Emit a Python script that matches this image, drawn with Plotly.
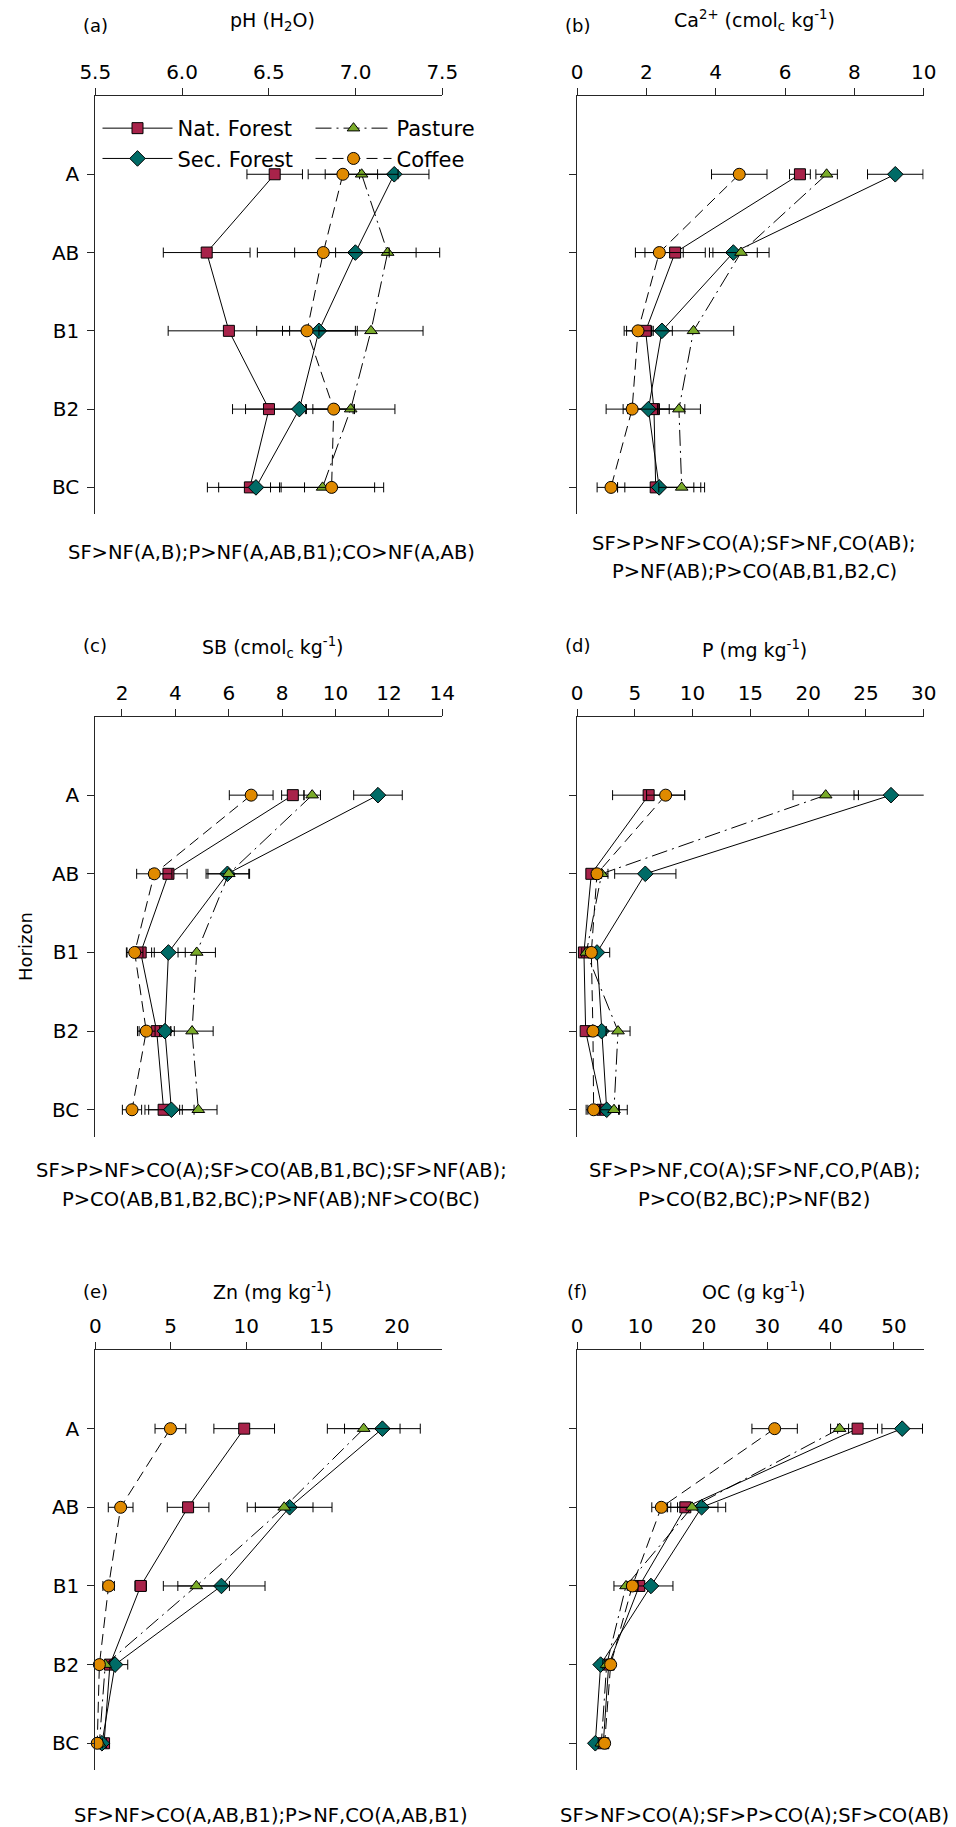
import plotly.graph_objects as go

W, H = 956, 1827

horizons = ["A", "AB", "B1", "B2", "BC"]
series_names = ["Nat. Forest", "Sec. Forest", "Pasture", "Coffee"]

# ---- (a) pH (H2O)
ph_nf = [6.534, 6.142, 6.270, 6.501, 6.391]
ph_nf_err = [0.16, 0.25, 0.35, 0.21, 0.18]
ph_sf = [7.223, 6.999, 6.789, 6.676, 6.426]
ph_sf_err = [0.20, 0.35, 0.21, 0.31, 0.28]
ph_p = [7.035, 7.185, 7.089, 6.972, 6.810]
ph_p_err = [0.21, 0.30, 0.30, 0.255, 0.30]
ph_co = [6.927, 6.814, 6.720, 6.874, 6.862]
ph_co_err = [0.20, 0.38, 0.29, 0.12, 0.30]

# ---- (b) Ca2+
ca_nf = [6.43, 2.83, 1.98, 2.22, 2.27]
ca_nf_err = [0.30, 0.87, 0.55, 0.89, 1.10]
ca_sf = [9.18, 4.51, 2.45, 2.06, 2.37]
ca_sf_err = [0.80, 0.69, 0.30, 0.60, 1.20]
ca_p = [7.20, 4.73, 3.36, 2.94, 3.02]
ca_p_err = [0.31, 0.81, 1.16, 0.62, 0.66]
ca_co = [4.68, 2.375, 1.76, 1.59, 0.98]
ca_co_err = [0.80, 0.69, 0.40, 0.75, 0.40]

# ---- (c) SB
sb_nf = [8.40, 3.74, 2.70, 3.30, 3.56]
sb_nf_err = [0.42, 0.70, 0.51, 0.66, 0.70]
sb_sf = [11.59, 5.95, 3.74, 3.61, 3.85]
sb_sf_err = [0.91, 0.80, 0.63, 0.20, 0.85]
sb_p = [9.125, 6.00, 4.80, 4.625, 4.86]
sb_p_err = [0.31, 0.78, 0.70, 0.79, 0.70]
sb_co = [6.84, 3.21, 2.475, 2.91, 2.375]
sb_co_err = [0.82, 0.66, 0.31, 0.33, 0.36]

# ---- (d) P
p_nf = [6.20, 1.24, 0.60, 0.75, 2.19]
p_nf_err = [3.12, 0.30, 0.30, 0.30, 1.40]
p_sf = [27.17, 5.91, 1.73, 2.13, 2.57]
p_sf_err = [3.20, 2.65, 1.10, 0.40, 1.10]
p_p = [21.52, 2.13, 0.81, 3.55, 3.20]
p_p_err = [2.83, 0.55, 0.40, 1.04, 1.15]
p_co = [7.67, 1.73, 1.24, 1.38, 1.44]
p_co_err = [1.65, 0.40, 0.30, 0.40, 0.50]

# ---- (e) Zn
zn_nf = [9.87, 6.15, 3.01, 0.97, 0.58]
zn_nf_err = [2.01, 1.38, 0.38, 0.35, 0.30]
zn_sf = [19.03, 12.88, 8.36, 1.31, 0.44]
zn_sf_err = [2.51, 2.81, 2.89, 0.84, 0.30]
zn_p = [17.79, 12.52, 6.70, 0.66, 0.27]
zn_p_err = [2.41, 1.91, 2.19, 0.30, 0.20]
zn_co = [4.98, 1.68, 0.885, 0.27, 0.13]
zn_co_err = [1.02, 0.82, 0.38, 0.20, 0.15]

# ---- (f) OC
oc_nf = [44.27, 17.09, 9.83, 5.00, 4.15]
oc_nf_err = [3.15, 2.80, 0.80, 0.50, 0.40]
oc_sf = [51.31, 19.66, 11.67, 3.73, 2.89]
oc_sf_err = [3.20, 3.80, 3.47, 0.50, 0.40]
oc_p = [41.43, 18.14, 7.73, 4.68, 3.84]
oc_p_err = [1.42, 4.10, 1.90, 0.60, 0.50]
oc_co = [31.18, 13.30, 8.73, 5.31, 4.36]
oc_co_err = [3.58, 1.50, 0.80, 0.50, 0.50]

x_titles = ["pH (H<sub>2</sub>O)",
            "Ca<sup>2+</sup> (cmol<sub>c</sub> kg<sup>-1</sup>)",
            "SB (cmol<sub>c</sub> kg<sup>-1</sup>)",
            "P (mg kg<sup>-1</sup>)",
            "Zn (mg kg<sup>-1</sup>)",
            "OC (g kg<sup>-1</sup>)"]
panel_labels = ["(a)", "(b)", "(c)", "(d)", "(e)", "(f)"]
x_ranges = [[5.5, 7.5], [0, 10], [1, 14], [0, 30], [0, 23], [0, 54.7]]
x_ticks = [[5.5, 6.0, 6.5, 7.0, 7.5], [0, 2, 4, 6, 8, 10], [2, 4, 6, 8, 10, 12, 14],
           [0, 5, 10, 15, 20, 25, 30], [0, 5, 10, 15, 20], [0, 10, 20, 30, 40, 50]]
x_ticktext = [["5.5", "6.0", "6.5", "7.0", "7.5"], None, None, None, None, None]
notes = [["SF>NF(A,B);P>NF(A,AB,B1);CO>NF(A,AB)"],
         ["SF>P>NF>CO(A);SF>NF,CO(AB);", "P>NF(AB);P>CO(AB,B1,B2,C)"],
         ["SF>P>NF>CO(A);SF>CO(AB,B1,BC);SF>NF(AB);", "P>CO(AB,B1,B2,BC);P>NF(AB);NF>CO(BC)"],
         ["SF>P>NF,CO(A);SF>NF,CO,P(AB);", "P>CO(B2,BC);P>NF(B2)"],
         ["SF>NF>CO(A,AB,B1);P>NF,CO(A,AB,B1)"],
         ["SF>NF>CO(A);SF>P>CO(A);SF>CO(AB)"]]

panels = [
    [(ph_nf, ph_nf_err), (ph_sf, ph_sf_err), (ph_p, ph_p_err), (ph_co, ph_co_err)],
    [(ca_nf, ca_nf_err), (ca_sf, ca_sf_err), (ca_p, ca_p_err), (ca_co, ca_co_err)],
    [(sb_nf, sb_nf_err), (sb_sf, sb_sf_err), (sb_p, sb_p_err), (sb_co, sb_co_err)],
    [(p_nf, p_nf_err), (p_sf, p_sf_err), (p_p, p_p_err), (p_co, p_co_err)],
    [(zn_nf, zn_nf_err), (zn_sf, zn_sf_err), (zn_p, zn_p_err), (zn_co, zn_co_err)],
    [(oc_nf, oc_nf_err), (oc_sf, oc_sf_err), (oc_p, oc_p_err), (oc_co, oc_co_err)],
]

styles = [
    dict(symbol="square", color="#A8234A", dash="solid", size=11),
    dict(symbol="diamond", color="#006B66", dash="solid", size=12),
    dict(symbol="triangle-up", color="#7AAB2A", dash="16px,5px,2px,5px", size=11),
    dict(symbol="circle", color="#E08A00", dash="11px,6px", size=12),
]

FONT = "DejaVu Sans"
AX = "#262626"


def px_x(p):
    return p / W


def px_y(p):
    return 1 - p / H


# layout geometry in pixels
col_x = [(95.3, 442.3), (577.0, 923.7)]
row_y = [(96.0, 514.0), (716.5, 1136.5), (1350.0, 1770.0)]
ypos = list(range(len(horizons)))

title_bottom = [36.0, 663.0, 1305.0]
label_mid = [25.5, 646.0, 1291.5]
note_centers = [[[552.0], [543.0, 571.0]],
                [[1170.5, 1199.0], [1170.5, 1199.0]],
                [[1815.0], [1815.0]]]
note_x = [271.0, 754.0]

fig = go.Figure()
layout = dict(width=W, height=H, margin=dict(l=0, r=0, t=0, b=0, autoexpand=False),
              paper_bgcolor="white", plot_bgcolor="white",
              font=dict(family=FONT, size=18, color="black"),
              annotations=[])

for i in range(6):
    r, c = divmod(i, 2)
    xa = "x" if i == 0 else f"x{i+1}"
    ya = "y" if i == 0 else f"y{i+1}"
    xkey = "xaxis" if i == 0 else f"xaxis{i+1}"
    ykey = "yaxis" if i == 0 else f"yaxis{i+1}"
    x0, x1 = col_x[c]
    y0, y1 = row_y[r]
    xax = dict(domain=[px_x(x0), px_x(x1)], anchor=ya, side="top", range=x_ranges[i],
               tickvals=x_ticks[i], ticks="outside", ticklen=7, tickwidth=1,
               tickcolor=AX, showline=True, linecolor=AX, linewidth=1,
               showgrid=False, zeroline=False, tickfont=dict(size=20, color="black"),
               ticklabelstandoff=1, automargin=False)
    if x_ticktext[i] is not None:
        xax["ticktext"] = x_ticktext[i]
    yax = dict(domain=[px_y(y1), px_y(y0)], anchor=xa, range=[4.34, -1.0],
               tickvals=ypos, ticktext=horizons, ticks="outside", ticklen=7, tickwidth=1,
               tickcolor=AX, showline=True, linecolor=AX, linewidth=1,
               showgrid=False, zeroline=False, showticklabels=(c == 0),
               tickfont=dict(size=20, color="black"), ticklabelstandoff=4,
               automargin=False)
    layout[xkey] = xax
    layout[ykey] = yax

    for s, (vals, errs) in enumerate(panels[i]):
        st = styles[s]
        fig.add_trace(go.Scatter(
            x=vals, y=ypos, xaxis=xa, yaxis=ya, mode="lines+markers",
            name=series_names[s], showlegend=(i == 0),
            legend=("legend" if s < 2 else "legend2"),
            line=dict(color="black", width=1, dash=st["dash"]),
            marker=dict(symbol=st["symbol"], size=st["size"], color=st["color"],
                        line=dict(color="black", width=1)),
            error_x=dict(type="data", array=errs, color="black", thickness=1, width=5),
            cliponaxis=False,
        ))

    cx = (x0 + x1) / 2 + 4
    layout["annotations"].append(dict(
        text=panel_labels[i], x=px_x(x0), y=px_y(label_mid[r]), xref="paper", yref="paper",
        xanchor="center", yanchor="middle", showarrow=False, font=dict(size=18)))
    layout["annotations"].append(dict(
        text=x_titles[i], x=px_x(cx), y=px_y(title_bottom[r]), xref="paper", yref="paper",
        xanchor="center", yanchor="bottom", showarrow=False, font=dict(size=19)))
    for k, line in enumerate(notes[i]):
        layout["annotations"].append(dict(
            text=line, x=px_x(note_x[c]), y=px_y(note_centers[r][c][k]),
            xref="paper", yref="paper", xanchor="center", yanchor="middle",
            showarrow=False, font=dict(size=19.5)))

layout["annotations"].append(dict(
    text="Horizon", x=px_x(25), y=px_y(947), xref="paper", yref="paper",
    xanchor="center", yanchor="middle", textangle=-90, showarrow=False, font=dict(size=18)))

layout["legend"] = dict(x=px_x(97.5), y=px_y(108), xanchor="left", yanchor="top",
                        font=dict(size=21, family=FONT), itemwidth=70,
                        bgcolor="rgba(0,0,0,0)", tracegroupgap=0)
layout["legend2"] = dict(x=px_x(310.5), y=px_y(108), xanchor="left", yanchor="top",
                         font=dict(size=21, family=FONT), itemwidth=76,
                         bgcolor="rgba(0,0,0,0)", tracegroupgap=0)

fig.update_layout(**layout)
fig.write_html("out.html")
